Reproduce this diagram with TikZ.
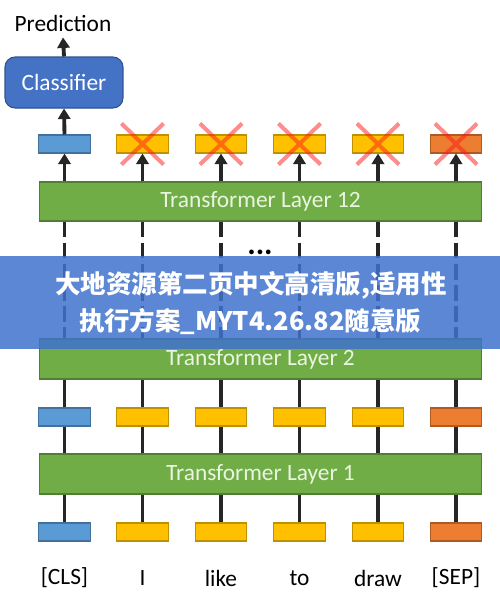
\documentclass[tikz,border=0pt]{standalone}
\usepackage{fontspec}
\setmainfont{Carlito}
\newfontfamily\cjkfont{Noto Sans CJK SC}
\usepackage{tikz}
\usetikzlibrary{arrows.meta,shapes.misc}
\definecolor{clsfill}{HTML}{5B9BD5}
\definecolor{clsedge}{HTML}{41719C}
\definecolor{wordfill}{HTML}{FFC000}
\definecolor{wordedge}{HTML}{BF9000}
\definecolor{sepfill}{HTML}{ED7D31}
\definecolor{sepedge}{HTML}{AE5A21}
\definecolor{layerfill}{HTML}{70AD47}
\definecolor{layeredge}{HTML}{507E32}
\definecolor{layertext}{HTML}{EAF5E0}
\definecolor{headfill}{HTML}{4472C4}
\definecolor{headedge}{HTML}{2F528F}
\definecolor{linkgray}{HTML}{262626}
\definecolor{bannerblue}{HTML}{4072CE}
\tikzstyle{layer}     = [draw=layeredge, fill=layerfill, text=layertext, minimum width=8.86cm, minimum height=0.8cm, inner sep=0pt, line width=0.6pt]
\tikzstyle{clsbox}    = [draw=clsedge, fill=clsfill, minimum width=1.03cm, minimum height=0.36cm, inner sep=0pt, line width=0.6pt]
\tikzstyle{wordbox}   = [clsbox, draw=wordedge, fill=wordfill]
\tikzstyle{sepbox}    = [clsbox, draw=sepedge, fill=sepfill]
\tikzstyle{head}      = [draw=headedge, fill=headfill, text=white, rounded corners=0.2cm, minimum width=2.36cm, minimum height=1.02cm, line width=0.6pt]
\tikzstyle{link}      = [line width=2.2pt, draw=linkgray]
\tikzstyle{arrow}     = [link, -{Triangle[length=6pt,width=7pt]}]
\tikzstyle{dashlink}  = [link, dash pattern=on 9pt off 3pt]
\tikzstyle{crossmark} = [cross out, draw=red!90!white, draw opacity=0.5, line width=2.3pt, minimum width=0.76cm, minimum height=0.74cm, inner sep=0pt]
\tikzstyle{banner}    = [fill=bannerblue, fill opacity=0.85, draw=none]

\begin{document}
\begin{tikzpicture}[x=0.02cm, y=-0.02cm, font=\fontsize{13.3pt}{16pt}\selectfont]
	\useasboundingbox (0,0) rectangle (500,606);

	% transformer layers
	\node[layer] (layer1) at (260.5,474) {Transformer Layer 1};
	\node[layer] (layer2) at (260.5,359) {Transformer Layer 2};
	\node[layer, minimum height=0.78cm] (layer12) at (260.5,201.5) {Transformer Layer 12};
	\node[font=\fontsize{18pt}{20pt}\selectfont\bfseries] (dots) at (260,252) {...};

	% input embeddings
	\node[clsbox]  (b0) at (64.5,532) {};
	\node[wordbox] (b1) at (142.5,532) {};
	\node[wordbox] (b2) at (221,532) {};
	\node[wordbox] (b3) at (299.5,532) {};
	\node[wordbox] (b4) at (378,532) {};
	\node[sepbox]  (b5) at (456,532) {};

	% hidden states after layer 1
	\node[clsbox]  (m0) at (64.5,417) {};
	\node[wordbox] (m1) at (142.5,417) {};
	\node[wordbox] (m2) at (221,417) {};
	\node[wordbox] (m3) at (299.5,417) {};
	\node[wordbox] (m4) at (378,417) {};
	\node[sepbox]  (m5) at (456,417) {};

	% outputs of layer 12
	\node[clsbox]  (t0) at (64.5,144) {};
	\node[wordbox] (t1) at (142.5,144) {};
	\node[wordbox] (t2) at (221,144) {};
	\node[wordbox] (t3) at (299.5,144) {};
	\node[wordbox] (t4) at (378,144) {};
	\node[sepbox]  (t5) at (456,144) {};

	% tokens
	\node (w0) at (64.5,578) {[CLS]};
	\node (w1) at (142.5,578) {I};
	\node (w2) at (221,578) {like};
	\node (w3) at (299.5,578) {to};
	\node (w4) at (378,578) {draw};
	\node (w5) at (456,578) {[SEP]};

	% classifier head
	\node[head] (classifier) at (64,82.5) {Classifier};
	\node (prediction) at (63,23) {Prediction};

	% links
	\draw[link] (b0.north) -- (b0.north |- layer1.south);
	\draw[link] (b1.north) -- (b1.north |- layer1.south);
	\draw[link] (b2.north) -- (b2.north |- layer1.south);
	\draw[link] (b3.north) -- (b3.north |- layer1.south);
	\draw[link] (b4.north) -- (b4.north |- layer1.south);
	\draw[link] (b5.north) -- (b5.north |- layer1.south);

	\draw[link] (m0.south |- layer1.north) -- (m0.south);
	\draw[link] (m1.south |- layer1.north) -- (m1.south);
	\draw[link] (m2.south |- layer1.north) -- (m2.south);
	\draw[link] (m3.south |- layer1.north) -- (m3.south);
	\draw[link] (m4.south |- layer1.north) -- (m4.south);
	\draw[link] (m5.south |- layer1.north) -- (m5.south);

	\draw[link] (m0.north) -- (m0.north |- layer2.south);
	\draw[link] (m1.north) -- (m1.north |- layer2.south);
	\draw[link] (m2.north) -- (m2.north |- layer2.south);
	\draw[link] (m3.north) -- (m3.north |- layer2.south);
	\draw[link] (m4.north) -- (m4.north |- layer2.south);
	\draw[link] (m5.north) -- (m5.north |- layer2.south);

	\draw[dashlink] (t0 |- layer12.south) -- (t0 |- layer2.north);
	\draw[dashlink] (t1 |- layer12.south) -- (t1 |- layer2.north);
	\draw[dashlink] (t2 |- layer12.south) -- (t2 |- layer2.north);
	\draw[dashlink] (t3 |- layer12.south) -- (t3 |- layer2.north);
	\draw[dashlink] (t4 |- layer12.south) -- (t4 |- layer2.north);
	\draw[dashlink] (t5 |- layer12.south) -- (t5 |- layer2.north);

	\draw[arrow] (t0 |- layer12.north) -- (t0.south);
	\draw[arrow] (t1 |- layer12.north) -- (t1.south);
	\draw[arrow] (t2 |- layer12.north) -- (t2.south);
	\draw[arrow] (t3 |- layer12.north) -- (t3.south);
	\draw[arrow] (t4 |- layer12.north) -- (t4.south);
	\draw[arrow] (t5 |- layer12.north) -- (t5.south);

	\draw[arrow] (t0.north) -- (classifier.south);
	\draw[arrow] (classifier.north) -- (prediction.south);

	% dropped token outputs
	\node[crossmark] (x1) at (t1) {};
	\node[crossmark] (x2) at (t2) {};
	\node[crossmark] (x3) at (t3) {};
	\node[crossmark] (x4) at (t4) {};
	\node[crossmark] (x5) at (t5) {};

	% banner on top
	\fill[banner] (0,256) rectangle (500,349);
	\node[text=white, font=\cjkfont\fontsize{14.5pt}{17pt}\selectfont\bfseries] (bannerA) at (251,285) {大地资源第二页中文高清版,适用性};
	\node[text=white, font=\cjkfont\fontsize{14.5pt}{17pt}\selectfont\bfseries] (bannerB) at (250,321) {执行方案\_MYT4.26.82随意版};
\end{tikzpicture}
\end{document}
